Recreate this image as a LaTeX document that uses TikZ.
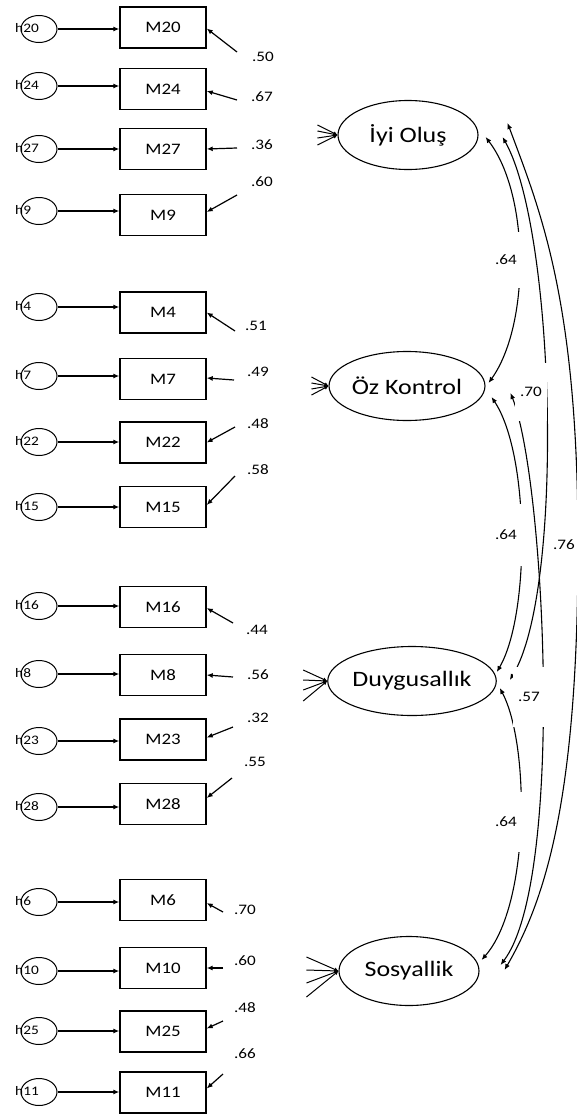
\documentclass[tikz,border=0pt]{standalone}
\usepackage{fontspec}
\setmainfont{Carlito}[FakeStretch=1.18]
\usetikzlibrary{shapes.geometric,arrows.meta,calc}
\newcommand\semrow[9]{%
  \node[obs] (M#1) at (163,#2) {M#1};
  \node[err] (e#1) at (39,#3) {};
  \node[elab] (t#1) at (15,#3-1) {h#1};
  \draw[onearrow] (e#1.east) -- (e#1.east -| M#1.west);
  \coordinate (s#1) at (#5,#6);
  \draw[onearrow] (s#1) -- ([shift={(0,#4)}]M#1.east);
  \node[num] (n#1) at (#8,#9) {#7};
}
\begin{document}
\begin{tikzpicture}[x=1pt,y=-1pt,
  err/.style={ellipse,draw,line width=1pt,minimum width=36pt,minimum height=27pt,inner sep=0pt},
  obs/.style={rectangle,draw,line width=1.4pt,minimum width=86pt,minimum height=41pt,inner sep=0pt,font=\fontsize{16}{18}\selectfont},
  lat/.style={ellipse,draw,line width=1.1pt,minimum width=140pt,minimum height=69pt,inner sep=0pt,font=\fontsize{22}{24}\selectfont},
  elab/.style={anchor=west,inner sep=0pt,font=\fontsize{13}{15}\selectfont},
  num/.style={inner sep=0pt,font=\fontsize{14.5}{16}\selectfont},
  onearrow/.style={line width=1.2pt,arrows={-Latex[length=6pt,width=5pt]}},
  fanline/.style={line width=1pt,arrows={-Latex[length=4pt,width=4pt]}},
  cov/.style={line width=1.1pt,arrows={Latex[length=6pt,width=5pt]-Latex[length=6pt,width=5pt]}},
  gap/.style={fill=white,inner ysep=0pt,font=\fontsize{14.5}{16}\selectfont}
]
\path[use as bounding box] (0,0) rectangle (577,1116);
\clip (0,0) rectangle (577,1116);
\fill[white] (0,0) rectangle (577,1116);

% observed indicators with errors and loadings
\semrow{20}{27.5}{29}{1}{237}{52}{.50}{263}{57}
\semrow{24}{89}{86}{2}{237}{100}{.67}{262}{97}
\semrow{27}{149}{149}{0}{237}{148}{.36}{262}{145}
\semrow{9}{215}{211}{-3}{237}{195}{.60}{262}{182}
\semrow{4}{312.5}{307}{0}{235}{331}{.51}{256}{326}
\semrow{7}{379}{376}{-1}{234}{380}{.49}{258}{372}
\semrow{22}{442.5}{442}{0}{235}{427}{.48}{258}{424}
\semrow{15}{507}{507}{-2}{235}{476}{.58}{258}{470}
\semrow{16}{607}{606}{1}{233}{623}{.44}{257}{630}
\semrow{8}{675}{674}{0}{233}{677}{.56}{258}{675}
\semrow{23}{739.5}{741}{-2}{233}{727}{.32}{258}{718}
\semrow{28}{804}{807}{-6}{232}{778}{.55}{255}{762}
\semrow{6}{900}{902}{3}{223}{912}{.70}{245}{910}
\semrow{10}{968}{971}{0}{223}{968}{.60}{245}{961}
\semrow{25}{1031.5}{1031}{-3}{223}{1021}{.48}{245}{1008}
\semrow{11}{1092.5}{1092}{-4}{223}{1074}{.66}{245}{1054}

% latent variables
\node[lat] (iyi) at (408,135) {İyi Oluş\hspace{22pt}};
\node[lat] (oz)  at (407,386) {Öz Kontrol\hspace{22pt}};
\node[lat] (duy) at (412,681) {Duygusallık\hspace{18pt}};
\node[lat] (sos) at (409,971) {Sosyallik\hspace{22pt}};

% converging stubs on the left of latents
\foreach \dy [count=\k] in {-10,-4,3,10}{
  \coordinate (fi\k) at ([shift={(-20,\dy)}]iyi.west);
  \draw[fanline] (fi\k) -- (iyi.west);}
\foreach \dy [count=\k] in {-9,-3,3,9}{
  \coordinate (fo\k) at ([shift={(-17,\dy)}]oz.west);
  \draw[fanline] (fo\k) -- (oz.west);}
\foreach \dy [count=\k] in {-11,-1,9,20}{
  \coordinate (fd\k) at ([shift={(-24,\dy)}]duy.west);
  \draw[fanline] (fd\k) -- (duy.west);}
\foreach \dy [count=\k] in {-14,-1,12,26}{
  \coordinate (fs\k) at ([shift={(-32,\dy)}]sos.west);
  \draw[fanline] (fs\k) -- (sos.west);}

% covariance end points
\coordinate (iA) at ([shift={(7,2)}]iyi.east);
\coordinate (iB) at ([shift={(24,2)}]iyi.east);
\coordinate (iC) at ([shift={(29,-12)}]iyi.east);
\coordinate (oA) at ([shift={(3,-3)}]oz.east);
\coordinate (oB) at ([shift={(6,11)}]oz.east);
\coordinate (oC) at ([shift={(25,7)}]oz.east);
\coordinate (dA) at ([shift={(0,-9)}]duy.east);
\coordinate (dB) at ([shift={(3,7)}]duy.east);
\coordinate (dC) at ([shift={(13,-1)}]duy.east);
\coordinate (sA) at ([shift={(2,-11)}]sos.east);
\coordinate (sB) at ([shift={(21,-6)}]sos.east);
\coordinate (sC) at ([shift={(25,-1)}]sos.east);

% covariances
\draw[cov] (iA) .. controls (530,195) and (530,325) .. (oA);
\draw[cov] (oB) .. controls (530,455) and (530,615) .. (dA);
\draw[cov] (dB) .. controls (530,745) and (530,905) .. (sA);
\draw[cov] (iB) .. controls (555,230) and (565,590) .. (dC);
\draw[cov] (oC) .. controls (545,480) and (565,880) .. (sB);
\draw[cov] (iC) .. controls (540,210) and (578,300) .. (578,545) .. controls (578,800) and (545,900) .. (sC);

% covariance labels (interrupting the lines)
\node[gap,inner xsep=6pt,minimum height=56pt] (c1) at (506,260) {.64};
\node[gap,inner xsep=6pt,minimum height=62pt] (c2) at (506,535) {.64};
\node[gap,inner xsep=6pt,minimum height=60pt] (c3) at (506,822) {.64};
\node[gap,inner xsep=5pt,minimum height=58pt] (c4) at (531,392) {.70};
\node[gap,inner xsep=5pt,minimum height=60pt] (c5) at (529,697) {.57};
\node[gap,inner xsep=2pt,minimum height=40pt] (c6) at (564,545) {.76};
\end{tikzpicture}
\end{document}
